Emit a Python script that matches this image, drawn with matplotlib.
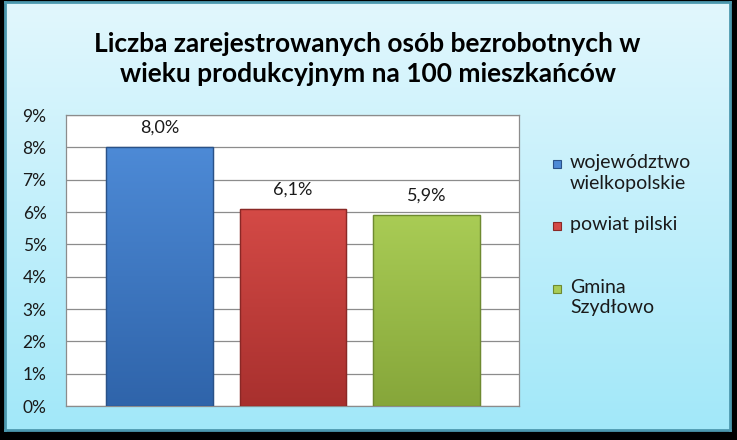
import matplotlib
matplotlib.use("Agg")
import matplotlib.pyplot as plt
import numpy as np
from matplotlib.patches import Rectangle
from matplotlib.colors import LinearSegmentedColormap
from matplotlib.ticker import FuncFormatter

# ---- data ----
title = "Liczba zarejestrowanych osób bezrobotnych w\nwieku produkcyjnym na 100 mieszkańców"
series_names = ["województwo\nwielkopolskie", "powiat pilski", "Gmina\nSzydłowo"]
values = [8.0, 6.1, 5.9]
yticks = [0, 1, 2, 3, 4, 5, 6, 7, 8, 9]

top_colors = ["#4d8ad6", "#d44a46", "#a9cc55"]
bot_colors = ["#2f64aa", "#a8302e", "#86a63a"]
edge_colors = ["#2a5288", "#8a2826", "#6e8a30"]

plt.rcParams['font.family'] = ['Lato', 'DejaVu Sans']

W, H = 737, 440
fig = plt.figure(figsize=(W / 100, H / 100), dpi=100)
fig.patch.set_facecolor("black")

# panel background with vertical gradient
px0, py0, px1, py1 = 5, 2, 730, 430
bg = fig.add_axes([px0 / W, 1 - py1 / H, (px1 - px0) / W, (py1 - py0) / H])
grad = np.linspace(0, 1, 256).reshape(-1, 1)
cmap_bg = LinearSegmentedColormap.from_list("bg", ["#e2f7fd", "#a2e8f9"])
bg.imshow(grad, aspect="auto", cmap=cmap_bg, extent=[0, 1, 0, 1], origin="upper")
bg.set_xticks([]); bg.set_yticks([])
for s in bg.spines.values():
    s.set_color("#4c98ae"); s.set_linewidth(2.0)
bg.set_zorder(0)

# title
fig.text(0.5 * (px0 + px1) / W, 1 - 59 / H, title, ha="center", va="center",
         fontsize=19, fontweight="bold", color="black", linespacing=1.33)

# plot area
ax_l, ax_r, ax_t, ax_b = 66, 519, 115, 406
ax = fig.add_axes([ax_l / W, 1 - ax_b / H, (ax_r - ax_l) / W, (ax_b - ax_t) / H])
ax.set_zorder(1)
ax.set_facecolor("white")
x = np.arange(len(values))
width = 0.8
bars = ax.bar(x, values, width=width, color=top_colors, edgecolor=edge_colors,
              linewidth=0.8, zorder=3)
for b, tc, bc in zip(bars, top_colors, bot_colors):
    cm = LinearSegmentedColormap.from_list("g", [tc, bc])
    bx, by = b.get_x(), b.get_y()
    bw, bh = b.get_width(), b.get_height()
    im = ax.imshow(grad, aspect="auto", cmap=cm, extent=[bx, bx + bw, by, by + bh],
                   origin="upper", zorder=3.5)
    im.set_clip_path(b)
    ax.add_patch(Rectangle((bx, by), bw, bh, fill=False, edgecolor=b.get_edgecolor(),
                           linewidth=1.0, zorder=4))
ax.set_xlim(-0.4 - 40 / 134, 2.4 + 39 / 134)
ax.set_ylim(0, 9)
ax.set_yticks(yticks)
ax.yaxis.set_major_formatter(FuncFormatter(lambda v, p: f"{int(v)}%"))
ax.set_xticks([])
ax.grid(axis="y", color="#8c8c8c", linewidth=0.9, zorder=0)
ax.set_axisbelow(True)
for s in ax.spines.values():
    s.set_color("#8c8c8c"); s.set_linewidth(0.9)
ax.tick_params(axis="y", length=0, pad=14, labelsize=12.5, labelcolor="#1a1a1a")

for xi, v in zip(x, values):
    ax.annotate(f"{v:.1f}%".replace(".", ","), (xi, v), xytext=(0, 14),
                textcoords="offset points", ha="center", va="center",
                fontsize=13, color="#1a1a1a")

# legend (manual, Excel-like layout)
leg_y = [160, 222, 285]
for name, tc, ec, yy in zip(series_names, top_colors, edge_colors, leg_y):
    fig.patches.append(Rectangle((553 / W, 1 - (yy + 8) / H), 8 / W, 8 / H,
                                 transform=fig.transFigure, facecolor=tc,
                                 edgecolor=ec, linewidth=0.8, zorder=5))
    fig.text(570 / W, 1 - (yy - 6) / H, name, ha="left", va="top",
             fontsize=14, color="#1a1a1a", linespacing=1.25, zorder=6)

fig.savefig("out.png", dpi=100, facecolor=fig.get_facecolor())
